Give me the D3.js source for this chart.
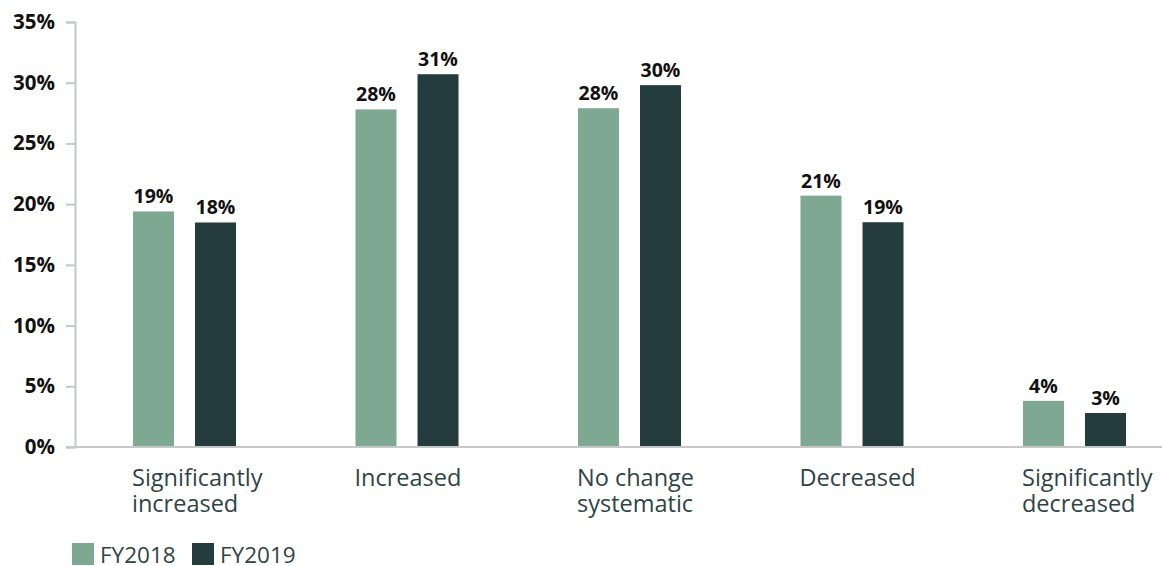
<!DOCTYPE html>
<html>
<head>
<meta charset="utf-8">
<script src="https://cdn.jsdelivr.net/npm/d3@7"></script>
<style>
  html, body { margin: 0; padding: 0; background: #fff; }
  svg { display: block; }
</style>
</head>
<body>
<svg id="chart" width="1162" height="566"></svg>
<script>
// Change in spending, share of respondents by year
const categories = [
  ["Significantly", "increased"],
  ["Increased"],
  ["No change", "systematic"],
  ["Decreased"],
  ["Significantly", "decreased"]
];
const seriesNames = ["FY2018", "FY2019"];
const fy2018 = [19.4, 27.8, 27.9, 20.7, 3.8];
const fy2019 = [18.49, 30.7, 29.8, 18.51, 2.8];
const yTicks = [0, 5, 10, 15, 20, 25, 30, 35];

const colors = { FY2018: "#7fa892", FY2019: "#253c3e" };
const seriesValues = { FY2018: fy2018, FY2019: fy2019 };
const font = "'Open Sans', sans-serif";

const svg = d3.select("#chart");
const catKeys = categories.map(c => c.join(" "));

const y = d3.scaleLinear().domain([0, 35]).range([447, 22]);

const x0 = d3.scaleBand()
  .domain(catKeys)
  .range([73.25, 1185.75])
  .paddingInner(0.537)
  .paddingOuter(0.2685);

const x1 = d3.scaleBand()
  .domain(seriesNames)
  .range([0, x0.bandwidth()])
  .paddingInner(0.339);

const rows = catKeys.map((k, i) => ({
  key: k,
  lines: categories[i],
  values: seriesNames.map(s => ({ series: s, value: seriesValues[s][i] }))
}));

// bars
const groups = svg.append("g").selectAll("g")
  .data(rows)
  .join("g")
  .attr("transform", d => `translate(${x0(d.key)},0)`);

groups.selectAll("rect")
  .data(d => d.values)
  .join("rect")
  .attr("x", d => x1(d.series))
  .attr("y", d => y(d.value))
  .attr("width", x1.bandwidth())
  .attr("height", d => y(0) - y(d.value))
  .attr("fill", d => colors[d.series]);

// value labels
groups.selectAll("text.val")
  .data(d => d.values)
  .join("text")
  .attr("class", "val")
  .attr("x", d => x1(d.series) + x1.bandwidth() / 2)
  .attr("y", d => y(d.value) - 8)
  .attr("text-anchor", "middle")
  .attr("font-family", font)
  .attr("font-weight", 700)
  .attr("font-size", 19.5)
  .attr("fill", "#111")
  .text(d => d3.format(".0f")(d.value) + "%");

// category labels, left-aligned with the first bar
groups.selectAll("text.cat")
  .data(d => d.lines)
  .join("text")
  .attr("class", "cat")
  .attr("x", x1(seriesNames[0]) - 1)
  .attr("y", (d, i) => 486 + i * 25.5)
  .attr("font-family", font)
  .attr("font-size", 23.5)
  .attr("fill", "#2f4446")
  .text(d => d);

// y axis
const yAxis = svg.append("g")
  .attr("transform", "translate(75,0)")
  .call(d3.axisLeft(y).tickValues(yTicks).tickSize(9).tickPadding(11)
    .tickFormat(d => d + "%"));
yAxis.select(".domain").attr("stroke", "#c4c8c8").attr("stroke-width", 2);
yAxis.selectAll(".tick line").attr("stroke", "#c4c8c8").attr("stroke-width", 2);
yAxis.selectAll(".tick text")
  .attr("font-family", font)
  .attr("font-weight", 700)
  .attr("font-size", 20.5)
  .attr("fill", "#111");

// baseline
svg.append("line")
  .attr("x1", 66).attr("x2", 1162)
  .attr("y1", y(0)).attr("y2", y(0))
  .attr("stroke", "#c4c8c8")
  .attr("stroke-width", 2);

// legend
const legend = svg.append("g").attr("transform", "translate(72,543)");
const items = legend.selectAll("g")
  .data(seriesNames)
  .join("g")
  .attr("transform", (d, i) => `translate(${i * 120},0)`);
items.append("rect")
  .attr("width", 22).attr("height", 22)
  .attr("fill", d => colors[d]);
items.append("text")
  .attr("x", 28).attr("y", 20)
  .attr("font-family", font)
  .attr("font-size", 22.5)
  .attr("fill", "#2f4446")
  .text(d => d);
</script>
</body>
</html>
